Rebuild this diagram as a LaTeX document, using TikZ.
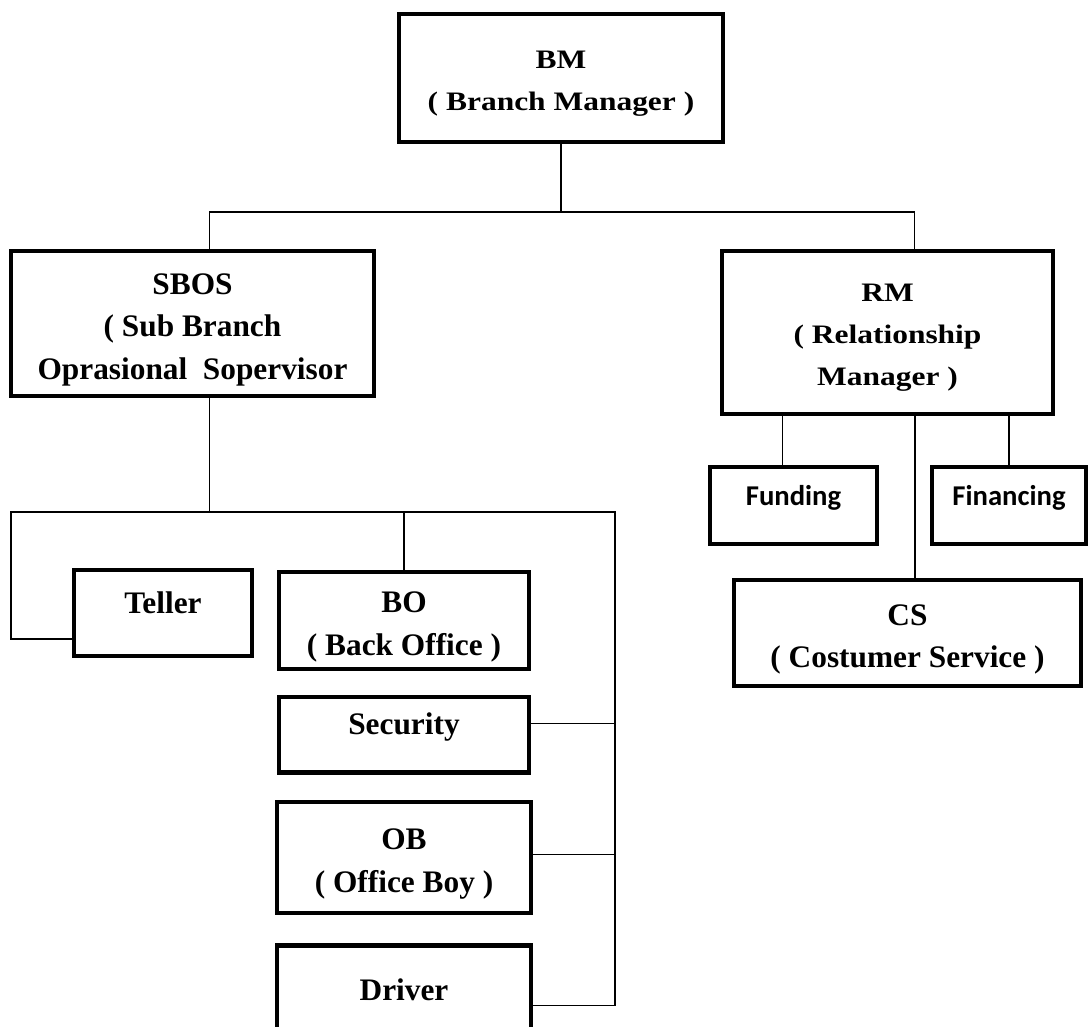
\documentclass[tikz,border=0pt]{standalone}
\usepackage{fontspec}
\setmainfont{Liberation Serif}
\newfontfamily\widefont{Liberation Serif}[FakeStretch=1.18]
\newfontfamily\calibfont{Carlito}
\usetikzlibrary{positioning}

\newcommand{\topline}{\rule{0pt}{0.85em}}

\tikzset{
  box/.style={draw, rectangle, line width=3.2pt, align=center, inner sep=0pt,
    font=\bfseries\fontsize{23.5}{32}\selectfont},
  widebox/.style={box, font=\widefont\bfseries\fontsize{20}{31.5}\selectfont},
  smallbox/.style={box, font=\calibfont\bfseries\fontsize{21.5}{26}\selectfont},
  oneline/.style={text height=0.6em, text depth=0.6em},
  lines/.style={text depth=0pt},
  link/.style={line width=0.8pt}
}

\begin{document}
\begin{tikzpicture}[x=0.75pt, y=-0.75pt]
\useasboundingbox (0,0) rectangle (1088,1026);
\clip (0,0) rectangle (1088,1026);

% Top and second level
\node (bm) [widebox, lines, minimum width=242.6pt, minimum height=95.6pt] at (561,78) {\topline BM\\( Branch Manager )};
\node (sbos) [box, lines, minimum width=271.9pt, minimum height=108.4pt] at (192.5,323.5) {\topline SBOS\\( Sub Branch\\Oprasional\ \ Sopervisor};
\node (rm) [widebox, lines, minimum width=247.9pt, minimum height=121.9pt] at (887.5,332.5) {\topline RM\\( Relationship\\Manager )};

% Under RM
\node (funding) [smallbox, oneline, minimum width=124.9pt, minimum height=57.4pt] at (793.5,505.5) {Funding};
\node (financing) [smallbox, oneline, minimum width=115.1pt, minimum height=57.4pt] at (1009,505.5) {Financing};
\node (cs) [box, lines, minimum width=259.9pt, minimum height=79.1pt] at (907.5,633) {\topline CS\\( Costumer Service )};

% Under SBOS
\node (teller) [box, oneline, minimum width=133.1pt, minimum height=64.1pt] at (163,613) {Teller};
\node (bo) [box, lines, minimum width=187.1pt, minimum height=72.4pt] at (404,620.5) {\topline BO\\( Back Office )};
\node (security) [box, oneline, minimum width=187.1pt, minimum height=56.6pt, below=18pt of bo] {Security};
\node (ob) [box, lines, minimum width=190.1pt, minimum height=83.6pt, below=18.75pt of security] {\topline OB\\( Office Boy )};
\node (driver) [box, oneline, minimum width=190.1pt, minimum height=82.5pt, below=21pt of ob] {Driver};

\coordinate (tbus) at (0,212);
\coordinate (sbus) at (11,512);
\coordinate (ebus) at (615,512);

\draw[link] (bm.south) -- (bm.south |- tbus);
\draw[link] ([xshift=13pt]sbos.north) |- (bm.south |- tbus) -| ([xshift=20pt]rm.north);

\draw[link] ([xshift=-8.6pt]funding.north) -- ([xshift=-8.6pt]funding.north |- rm.south);
\draw[link] (financing.north) -- (financing.north |- rm.south);
\draw[link] ([xshift=5.6pt]cs.north) -- ([xshift=5.6pt]cs.north |- rm.south);

\draw[link] ([xshift=13pt]sbos.south) -- ([xshift=13pt]sbos.south |- sbus);
\draw[link] ([yshift=-19.5pt]teller.west) -| (sbus) -- (ebus) |- ([yshift=-3.75pt]driver.east);
\draw[link] (bo.north) -- (bo.north |- ebus);
\draw[link] ([yshift=8.25pt]security.east) -- ([yshift=8.25pt]security.east -| ebus);
\draw[link] ([yshift=2.25pt]ob.east) -- ([yshift=2.25pt]ob.east -| ebus);
\end{tikzpicture}
\end{document}
